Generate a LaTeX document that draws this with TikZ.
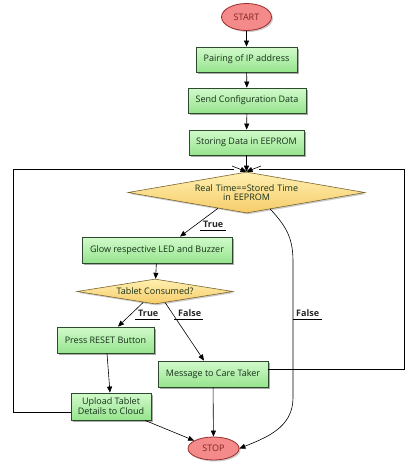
\documentclass[tikz,border=0pt]{standalone}
\usepackage{fontspec}
\setmainfont{Open Sans}
\usetikzlibrary{shapes.geometric,shadows,arrows.meta,calc}
\definecolor{txt}{HTML}{16301A}
\definecolor{gbord}{HTML}{2E4A2E}
\definecolor{gtop}{HTML}{D2FACB}
\definecolor{gbot}{HTML}{96E48E}
\definecolor{ytop}{HTML}{FFF0B0}
\definecolor{ybot}{HTML}{F6CC6A}
\definecolor{ybord}{HTML}{7A6530}
\definecolor{rfill}{HTML}{F48A8A}
\definecolor{rbord}{HTML}{9A2E2E}
\tikzset{
  base/.style={font=\fontsize{9}{8.8}\selectfont, text=txt, inner sep=1pt, align=center},
  procbox/.style={base, rectangle, draw=gbord, line width=0.8pt, top color=gtop, bottom color=gbot,
     drop shadow={shadow xshift=2pt, shadow yshift=-2pt, fill=black!60, opacity=0.55}},
  decbox/.style={base, diamond, aspect=5, draw=ybord, line width=0.6pt, top color=ytop, bottom color=ybot,
     drop shadow={shadow xshift=1.5pt, shadow yshift=-1.5pt, fill=black!50, opacity=0.4}},
  termbox/.style={base, ellipse, draw=rbord, line width=0.8pt, fill=rfill, text=rbord!80!black,
     drop shadow={shadow xshift=1.5pt, shadow yshift=-1.5pt, fill=black!50, opacity=0.4}},
  conn/.style={draw=black, line width=0.6pt, -{Triangle[length=6pt,width=5pt]}},
  loopline/.style={draw=black, line width=0.8pt},
  lbl/.style={font=\fontsize{9}{10.5}\selectfont\bfseries, text=black!85, inner sep=1pt},
}
\begin{document}
\begin{tikzpicture}[x=1pt,y=-1pt]
\useasboundingbox[fill=white] (0,0) rectangle (412,472);

\node[termbox, minimum width=50pt, minimum height=27pt] (start) at (246.5,17) {START};
\node[procbox, minimum width=101pt, minimum height=25pt] (pair) at (246.5,59.5) {Pairing of IP address};
\node[procbox, minimum width=118pt, minimum height=25pt] (send) at (247,100.5) {Send Configuration Data};
\node[procbox, minimum width=115pt, minimum height=25pt] (store) at (246.5,142.5) {Storing Data in EEPROM};
\node[decbox, minimum width=237pt, minimum height=41pt, inner sep=0pt, text width=120pt] (d1) at (246.5,192.5) {Real Time==Stored Time\\in EEPROM};
\node[procbox, minimum width=150pt, minimum height=26pt] (glow) at (157,250) {Glow respective LED and Buzzer};
\node[decbox, minimum width=156pt, minimum height=25pt, inner sep=0pt] (d2) at (155,291.5) {Tablet Consumed?};
\node[procbox, minimum width=97pt, minimum height=26pt] (reset) at (105.5,340) {Press RESET Button};
\node[procbox, minimum width=110pt, minimum height=26pt] (msg) at (213,374) {Message to Care Taker};
\node[procbox, minimum width=80pt, minimum height=27pt] (upload) at (111,406.5) {Upload Tablet\\Details to Cloud};
\node[termbox, minimum width=51pt, minimum height=23pt] (stop) at (213.5,448.5) {STOP};

\coordinate (topL) at (13,169);
\coordinate (topR) at (404,169);

% main flow
\draw[conn] (start) -- (pair);
\draw[conn] (pair) -- (send);
\draw[conn] (send) -- (store);
\draw[conn] (store) -- (d1.north);
\draw[conn] ($(d1.south)!0.24!(d1.west)$) -- ([xshift=23pt]glow.north);
\draw[conn] (glow) -- (d2);
\draw[conn] ($(d2.south)!0.15!(d2.west)$) -- ([xshift=12.5pt]reset.north);
\draw[conn] ($(d2.south)!0.13!(d2.east)$) -- ([xshift=-9pt]msg.north);
\draw[conn] ([xshift=1.5pt]reset.south) -- ([xshift=-1pt]upload.north);
\draw[conn] (msg) -- (stop);
\draw[conn] ([xshift=34pt]upload.south) -- (stop);
\draw[conn] ($(d1.south)!0.2!(d1.east)$) .. controls (288,228) and (293,240) .. (293,262)
   -- (293,398) .. controls (293,428) and (265,438) .. (stop.east);

% loops
\draw[loopline] (upload.west |- 0,412) -- (13,412) -- (topL) -- (234,169);
\draw[loopline] (msg.east |- 0,369) -- (404,369) -- (topR) -- (259,169);
\draw[conn] (232,166) -- (d1.north);
\draw[conn] (261,166) -- (d1.north);

% labels
\node[lbl, anchor=south west] (t1) at (202,229) {True};
\draw[line width=0.5pt] (200,230) -- (226,230);
\node[lbl, anchor=south west] (t2) at (137,318) {True};
\draw[line width=0.5pt] (135,319) -- (160,319);
\node[lbl, anchor=south west] (f2) at (177,318) {False};
\draw[line width=0.5pt] (174,319) -- (203,319);
\node[lbl, anchor=south west] (f1) at (295,318) {False};
\draw[line width=0.5pt] (293,319) -- (322,319);
\end{tikzpicture}
\end{document}
